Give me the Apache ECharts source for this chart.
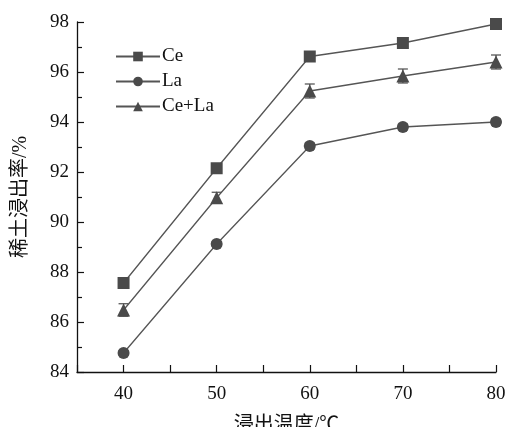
<!DOCTYPE html>
<html><head><meta charset="utf-8">
<script src="https://cdn.jsdelivr.net/npm/echarts@6/dist/echarts.min.js"></script>
<style>html,body{margin:0;padding:0;background:#fff}#c{width:506px;height:427px}</style>
</head><body><div id="c"></div>
<script>
const temps = [40, 50, 60, 70, 80];
const ceVals = [87.56, 92.15, 96.62, 97.16, 97.92];
const laVals = [84.76, 89.12, 93.04, 93.80, 94.00];
const ceLaVals = [86.48, 90.97, 95.24, 95.84, 96.40];
const ceErr = [0.05, 0.05, 0.05, 0.05, 0.05];
const laErr = [0.1, 0.1, 0.12, 0.12, 0.12];
const ceLaErr = [0.25, 0.22, 0.28, 0.28, 0.28];
const yTicks = [84, 86, 88, 90, 92, 94, 96, 98];
const xTicks = [40, 50, 60, 70, 80];

const serif = '"Liberation Serif", "Times New Roman", serif';
const cjk = '"Liberation Serif", "Noto Sans CJK SC", serif';
const markColor = '#4a4a4a';
const lineColor = '#555555';

function pts(vals){ return temps.map((t,i)=>[t, vals[i]]); }
function errData(vals, errs){ return temps.map((t,i)=>[t, vals[i]-errs[i], vals[i]+errs[i]]); }
function errSeries(vals, errs){
  return {
    type: 'custom', silent: true, z: 1,
    data: errData(vals, errs),
    renderItem: function(params, api){
      const x = api.value(0);
      const lo = api.coord([x, api.value(1)]);
      const hi = api.coord([x, api.value(2)]);
      const w = 5;
      const st = {stroke: markColor, lineWidth: 1.2};
      return {type:'group', children:[
        {type:'line', shape:{x1:lo[0], y1:lo[1], x2:hi[0], y2:hi[1]}, style:st},
        {type:'line', shape:{x1:lo[0]-w, y1:lo[1], x2:lo[0]+w, y2:lo[1]}, style:st},
        {type:'line', shape:{x1:hi[0]-w, y1:hi[1], x2:hi[0]+w, y2:hi[1]}, style:st}
      ]};
    }
  };
}
function lineSeries(name, vals, symbol, size){
  return {
    name: name, type: 'line', data: pts(vals), symbol: symbol, symbolSize: size,
    showAllSymbol: true, z: 3,
    lineStyle: {color: lineColor, width: 1.3},
    itemStyle: {color: markColor}
  };
}

const chart = echarts.init(document.getElementById('c'), null, {renderer: 'canvas'});
chart.setOption({
  animation: false,
  backgroundColor: '#fff',
  grid: {left: 77, right: 10, top: 22, bottom: 55, containLabel: false, outerBoundsMode: 'none'},
  legend: {
    left: 110, top: 42, orient: 'vertical', itemGap: 6,
    itemWidth: 44, itemHeight: 12,
    textStyle: {fontFamily: serif, fontSize: 19, color: '#111', padding: [0,0,0,-3]},
    data: ['Ce', 'La', 'Ce+La']
  },
  xAxis: {
    type: 'value', min: 35, max: 80, interval: 5,
    name: '浸出温度/℃', nameLocation: 'middle', nameGap: 44,
    nameTextStyle: {fontFamily: cjk, fontSize: 20, color: '#111'},
    axisLine: {lineStyle: {color: '#111', width: 1.3}},
    axisTick: {inside: true, length: 7, lineStyle: {color: '#111', width: 1.2}},
    axisLabel: {fontFamily: serif, fontSize: 19, color: '#111', margin: 13,
      formatter: v => xTicks.indexOf(v) >= 0 ? String(v) : ''},
    splitLine: {show: false}
  },
  yAxis: {
    type: 'value', min: 84, max: 98, interval: 2,
    name: '稀土浸出率/%', nameLocation: 'middle', nameGap: 46,
    nameTextStyle: {fontFamily: cjk, fontSize: 20, color: '#111'},
    axisLine: {show: true, lineStyle: {color: '#111', width: 1.3}},
    axisTick: {inside: true, length: 7, lineStyle: {color: '#111', width: 1.2}},
    minorTick: {show: true, splitNumber: 2, length: 5, lineStyle: {color: '#111', width: 1.2}},
    axisLabel: {fontFamily: serif, fontSize: 19, color: '#111', margin: 8,
      formatter: v => yTicks.indexOf(v) >= 0 ? String(v) : ''},
    splitLine: {show: false}
  },
  series: [
    errSeries(ceVals, ceErr),
    errSeries(laVals, laErr),
    errSeries(ceLaVals, ceLaErr),
    lineSeries('Ce', ceVals, 'rect', 12),
    lineSeries('La', laVals, 'circle', 12),
    lineSeries('Ce+La', ceLaVals, 'triangle', 13)
  ]
});
</script></body></html>
